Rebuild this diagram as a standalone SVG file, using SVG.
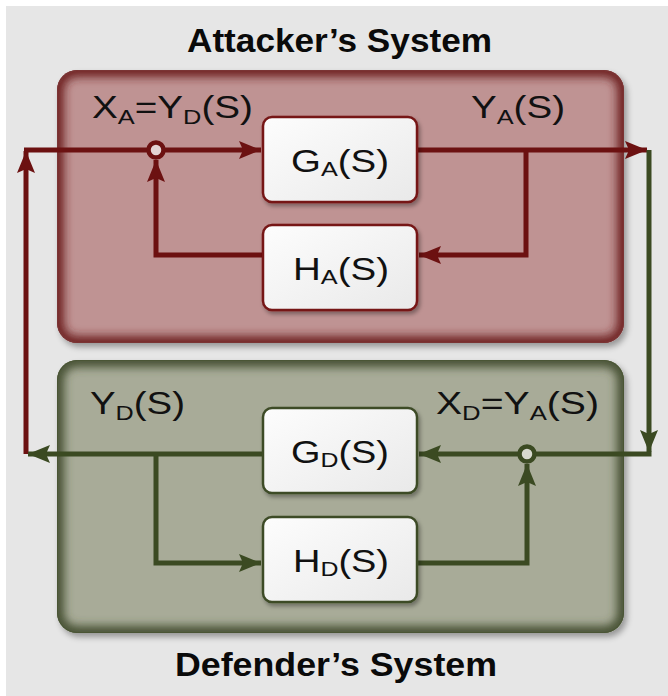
<svg xmlns="http://www.w3.org/2000/svg" width="668" height="696" viewBox="0 0 668 696">
<defs>
<style>
.title{font-family:"Liberation Sans",Arial,sans-serif;font-weight:bold;font-size:34px;fill:#0a0a0a}
.lbl{font-family:"Liberation Sans",Arial,sans-serif;font-size:32px;fill:#111}
.sub{font-size:21px}
.red{fill:none;stroke:#6c1111;stroke-width:5}
.grn{fill:none;stroke:#3b4a22;stroke-width:5}
.nodeA{fill:url(#nodeFill);stroke:#761717;stroke-width:2.5}
.nodeD{fill:url(#nodeFill);stroke:#3e4b27;stroke-width:2.5}
</style>
<linearGradient id="nodeFill" x1="0" y1="0" x2="1" y2="1">
<stop offset="0" stop-color="#fdfdfd"/>
<stop offset="1" stop-color="#e9e9e9"/>
</linearGradient>
<filter id="shadow" x="-10%" y="-10%" width="130%" height="130%">
<feGaussianBlur in="SourceAlpha" stdDeviation="3"/>
<feOffset dx="3" dy="4" result="b"/>
<feComponentTransfer><feFuncA type="linear" slope="0.35"/></feComponentTransfer>
<feMerge><feMergeNode/><feMergeNode in="SourceGraphic"/></feMerge>
</filter>
<filter id="nshadow" x="-10%" y="-10%" width="130%" height="130%">
<feGaussianBlur in="SourceAlpha" stdDeviation="2"/>
<feOffset dx="2" dy="3"/>
<feComponentTransfer><feFuncA type="linear" slope="0.35"/></feComponentTransfer>
<feMerge><feMergeNode/><feMergeNode in="SourceGraphic"/></feMerge>
</filter>
<filter id="glow" x="-5%" y="-5%" width="110%" height="110%">
<feGaussianBlur stdDeviation="5"/>
</filter>
<clipPath id="clipA"><rect x="57" y="70" width="567" height="273" rx="20"/></clipPath>
<clipPath id="clipD"><rect x="57" y="360" width="567" height="273" rx="20"/></clipPath>
<marker id="arrR" markerUnits="userSpaceOnUse" viewBox="-23 -10 25 20" refX="0" refY="0" markerWidth="25" markerHeight="20" orient="auto">
<path d="M0,0 L-22,-9 L-18,0 L-22,9 Z" fill="#6c1111"/>
</marker>
<marker id="arrG" markerUnits="userSpaceOnUse" viewBox="-23 -10 25 20" refX="0" refY="0" markerWidth="25" markerHeight="20" orient="auto">
<path d="M0,0 L-22,-9 L-18,0 L-22,9 Z" fill="#3b4a22"/>
</marker>
</defs>

<rect x="0" y="0" width="668" height="696" fill="#ffffff"/>
<rect x="6" y="6" width="662" height="690" fill="#e6e6e6"/>

<g id="attacker-system">
<rect x="57" y="70" width="567" height="273" rx="20" fill="#bf9393" filter="url(#shadow)"/>
<rect x="57" y="70" width="567" height="273" rx="20" fill="none" stroke="#6e2424" stroke-width="14" filter="url(#glow)" clip-path="url(#clipA)"/>
<rect x="57.5" y="70.5" width="566" height="272" rx="20" fill="none" stroke="#7a3434" stroke-width="1"/>
<text class="title" x="339.5" y="52" text-anchor="middle" textLength="305" lengthAdjust="spacingAndGlyphs">Attacker’s System</text>
</g>

<g id="defender-system">
<rect x="57" y="360" width="567" height="273" rx="20" fill="#a8ab98" filter="url(#shadow)"/>
<rect x="57" y="360" width="567" height="273" rx="20" fill="none" stroke="#454f30" stroke-width="14" filter="url(#glow)" clip-path="url(#clipD)"/>
<rect x="57.5" y="360.5" width="566" height="272" rx="20" fill="none" stroke="#4a5535" stroke-width="1"/>
<text class="title" x="336" y="676" text-anchor="middle" textLength="322" lengthAdjust="spacingAndGlyphs">Defender’s System</text>
</g>

<g id="connectors">
<!-- attacker -->
<path class="red" d="M26,454 V151" marker-end="url(#arrR)"/>
<path class="red" d="M24,150 H149"/>
<path class="red" d="M164,150 H261" marker-end="url(#arrR)"/>
<path class="red" d="M417,150 H647" marker-end="url(#arrR)"/>
<path class="red" d="M526,150 V255 H419" marker-end="url(#arrR)"/>
<path class="red" d="M263,255 H156 V160" marker-end="url(#arrR)"/>
<!-- defender -->
<path class="grn" d="M649,150 V452" marker-end="url(#arrG)"/>
<path class="grn" d="M651.5,454 H535"/>
<path class="grn" d="M519,454 H419" marker-end="url(#arrG)"/>
<path class="grn" d="M263,454 H28" marker-end="url(#arrG)"/>
<path class="grn" d="M156,454 V563 H261" marker-end="url(#arrG)"/>
<path class="grn" d="M417,563 H527 V464" marker-end="url(#arrG)"/>
</g>

<g id="sum-A">
<circle cx="156" cy="150" r="7.5" fill="#e3d3d3" stroke="#6c1111" stroke-width="4.5"/>
</g>
<g id="sum-D">
<circle cx="527" cy="454" r="7.5" fill="#d8d9cf" stroke="#3b4a22" stroke-width="4.5"/>
</g>

<g id="label-XA">
<text class="lbl" x="92" y="118" textLength="161" lengthAdjust="spacingAndGlyphs">X<tspan class="sub" dy="6">A</tspan><tspan dy="-6">=Y</tspan><tspan class="sub" dy="6">D</tspan><tspan dy="-6">(S)</tspan></text>
</g>
<g id="label-YA">
<text class="lbl" x="471" y="118" textLength="94" lengthAdjust="spacingAndGlyphs">Y<tspan class="sub" dy="6">A</tspan><tspan dy="-6">(S)</tspan></text>
</g>
<g id="label-YD">
<text class="lbl" x="90" y="414" textLength="95" lengthAdjust="spacingAndGlyphs">Y<tspan class="sub" dy="6">D</tspan><tspan dy="-6">(S)</tspan></text>
</g>
<g id="label-XD">
<text class="lbl" x="436" y="414" textLength="163" lengthAdjust="spacingAndGlyphs">X<tspan class="sub" dy="6">D</tspan><tspan dy="-6">=Y</tspan><tspan class="sub" dy="6">A</tspan><tspan dy="-6">(S)</tspan></text>
</g>

<g id="GA">
<rect class="nodeA" x="263" y="117" width="154" height="85" rx="9" filter="url(#nshadow)"/>
<text class="lbl" x="291" y="172" textLength="98" lengthAdjust="spacingAndGlyphs">G<tspan class="sub" dy="4">A</tspan><tspan dy="-4">(S)</tspan></text>
</g>
<g id="HA">
<rect class="nodeA" x="263" y="225" width="154" height="85" rx="9" filter="url(#nshadow)"/>
<text class="lbl" x="293" y="280" textLength="96" lengthAdjust="spacingAndGlyphs">H<tspan class="sub" dy="4">A</tspan><tspan dy="-4">(S)</tspan></text>
</g>
<g id="GD">
<rect class="nodeD" x="263" y="408" width="154" height="85" rx="9" filter="url(#nshadow)"/>
<text class="lbl" x="291" y="463" textLength="98" lengthAdjust="spacingAndGlyphs">G<tspan class="sub" dy="4">D</tspan><tspan dy="-4">(S)</tspan></text>
</g>
<g id="HD">
<rect class="nodeD" x="263" y="517" width="154" height="85" rx="9" filter="url(#nshadow)"/>
<text class="lbl" x="293" y="572" textLength="96" lengthAdjust="spacingAndGlyphs">H<tspan class="sub" dy="4">D</tspan><tspan dy="-4">(S)</tspan></text>
</g>
</svg>
